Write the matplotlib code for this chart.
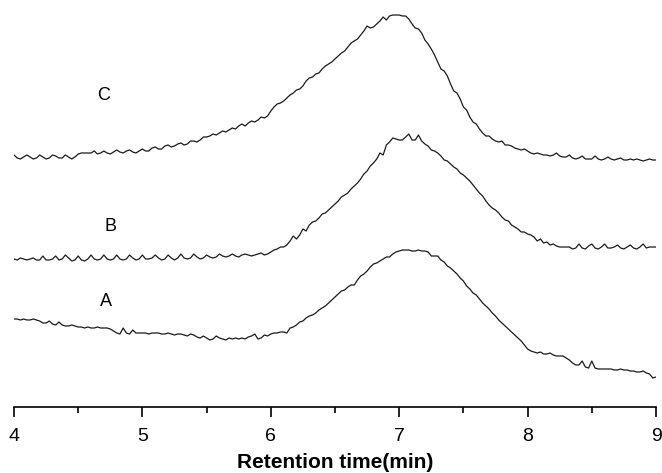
import numpy as np
import matplotlib
matplotlib.use('Agg')
import matplotlib.pyplot as plt

plt.rcParams['font.family'] = ['Liberation Sans', 'DejaVu Sans']

# retention time axis: 4.0 .. 9.0 min, one reading every 0.025 min
time_min = np.linspace(4.0, 9.0, 201)

# detector signal (arbitrary units)
trace_c = [
    252, 249, 248, 250, 252, 250, 248, 249, 252, 250, 248, 249, 252, 251, 249, 249, 252, 250, 248, 250,
    253, 254, 254, 254, 254, 256, 253, 254, 256, 254, 253, 255, 257, 255, 254, 256, 257, 255, 254, 256,
    258, 256, 256, 259, 260, 258, 258, 261, 262, 260, 261, 263, 264, 262, 263, 266, 266, 265, 267, 270,
    270, 271, 273, 272, 274, 276, 275, 277, 279, 278, 281, 283, 281, 284, 286, 285, 287, 290, 289, 291,
    296, 300, 303, 304, 306, 309, 312, 314, 317, 318, 321, 326, 329, 330, 333, 334, 338, 341, 343, 345,
    348, 351, 354, 356, 360, 364, 366, 368, 372, 376, 381, 379, 380, 383, 386, 390, 387, 391, 392, 392,
    392, 391, 391, 388, 383, 379, 378, 374, 367, 363, 358, 352, 345, 338, 336, 331, 323, 316, 314, 308,
    300, 297, 290, 285, 283, 278, 274, 271, 271, 268, 266, 265, 266, 262, 262, 261, 259, 258, 257, 258,
    256, 254, 253, 254, 253, 252, 252, 251, 252, 254, 251, 250, 250, 252, 249, 248, 249, 251, 248, 248,
    248, 251, 248, 247, 248, 250, 248, 247, 248, 249, 247, 247, 248, 247, 248, 247, 246, 247, 248, 247,
    247,
]

trace_b = [
    148, 147, 149, 148, 147, 148, 149, 147, 147, 151, 147, 147, 148, 151, 147, 148, 152, 149, 146, 147,
    151, 147, 146, 148, 152, 148, 147, 148, 152, 148, 147, 148, 152, 148, 147, 148, 152, 149, 147, 148,
    152, 148, 148, 149, 152, 149, 147, 148, 152, 149, 147, 149, 153, 149, 148, 149, 153, 150, 148, 149,
    152, 150, 149, 150, 153, 151, 150, 151, 153, 151, 150, 152, 153, 152, 151, 152, 153, 154, 152, 153,
    155, 157, 158, 160, 160, 162, 166, 171, 168, 172, 178, 176, 182, 185, 186, 189, 193, 194, 197, 200,
    203, 206, 210, 212, 214, 218, 221, 224, 228, 233, 236, 241, 244, 248, 254, 252, 262, 265, 269, 268,
    267, 267, 270, 273, 267, 267, 272, 266, 263, 261, 257, 256, 254, 251, 247, 246, 243, 240, 238, 234,
    232, 229, 226, 222, 218, 214, 211, 206, 202, 199, 197, 194, 190, 187, 186, 182, 180, 178, 175, 175,
    173, 172, 170, 166, 168, 164, 165, 162, 163, 161, 160, 160, 160, 160, 158, 159, 163, 159, 158, 161,
    163, 159, 158, 160, 163, 159, 159, 160, 162, 159, 158, 160, 162, 159, 158, 160, 163, 159, 160, 160,
    160,
]

trace_a = [
    88, 88, 87, 88, 87, 87, 88, 87, 86, 84, 84, 86, 83, 82, 85, 82, 81, 81, 82, 81,
    80, 80, 79, 80, 79, 79, 80, 79, 79, 79, 78, 76, 74, 73, 79, 74, 73, 77, 74, 74,
    74, 74, 73, 74, 74, 74, 73, 73, 74, 73, 72, 73, 73, 72, 71, 73, 72, 70, 69, 71,
    69, 67, 68, 71, 69, 68, 67, 69, 68, 69, 68, 69, 68, 70, 71, 73, 68, 69, 72, 71,
    73, 74, 74, 75, 75, 74, 79, 80, 82, 85, 86, 89, 91, 92, 94, 97, 99, 101, 104, 107,
    110, 113, 116, 117, 120, 122, 122, 127, 131, 133, 136, 140, 143, 144, 146, 148, 150, 150, 153, 155,
    156, 157, 157, 157, 156, 156, 157, 156, 156, 155, 151, 151, 151, 147, 145, 141, 139, 136, 133, 129,
    126, 121, 118, 114, 112, 108, 104, 101, 98, 94, 91, 87, 84, 81, 78, 75, 72, 69, 66, 62,
    58, 56, 55, 54, 55, 53, 53, 54, 52, 51, 51, 51, 49, 47, 44, 42, 42, 46, 40, 39,
    46, 39, 38, 38, 38, 38, 38, 37, 37, 38, 37, 37, 36, 36, 35, 35, 36, 34, 33, 29,
    30,
]

labels = ['A', 'B', 'C']
label_x = [4.72, 4.75, 4.70]
label_y = [105, 181, 312]

fig = plt.figure(figsize=(6.62, 4.73), dpi=100)
ax = fig.add_axes([14 / 662, 66 / 473, 642 / 662, 407 / 473])

for trace in (trace_a, trace_b, trace_c):
    ax.plot(time_min, trace, color='#1a1a1a', lw=0.9)

for lab, lx, ly in zip(labels, label_x, label_y):
    ax.text(lx, ly, lab, fontsize=13, ha='center', va='center')

ax.set_xlim(4, 9)
ax.set_ylim(0, 407)
ax.set_xticks([4, 5, 6, 7, 8, 9])
ax.set_xticks(np.arange(4.5, 9, 1.0), minor=True)
ax.set_yticks([])
for side in ('top', 'right', 'left'):
    ax.spines[side].set_visible(False)
ax.spines['bottom'].set_linewidth(1.2)
ax.tick_params(axis='x', which='major', direction='out', length=7, width=1.2,
               labelsize=14, pad=8)
ax.tick_params(axis='x', which='minor', direction='out', length=4.5, width=1.2)
ax.set_xlabel('Retention time(min)', fontsize=15, fontweight='bold', labelpad=6)

plt.savefig('out.png', dpi=100)
